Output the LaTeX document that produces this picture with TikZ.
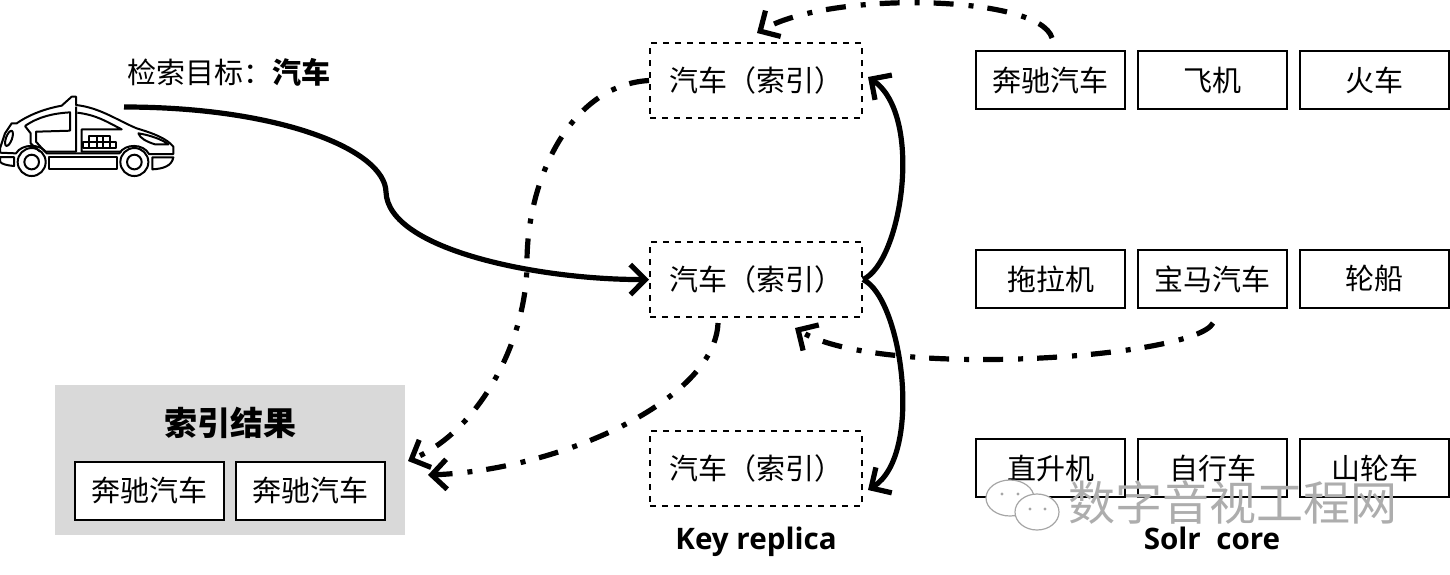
\documentclass[tikz,border=0pt]{standalone}
\usepackage{fontspec}
\setmainfont{Noto Sans CJK SC}
\newfontfamily\latinfont{Open Sans}
\usetikzlibrary{positioning, arrows.meta}

\tikzset{
	corebox/.style={draw, fill=white, line width=1pt, minimum width=74.5pt, minimum height=29pt, inner sep=0pt, font=\fontsize{14.5pt}{16pt}\selectfont},
	keybox/.style={draw, dashed, line width=1pt, minimum width=106pt, minimum height=37.5pt, inner sep=0pt, font=\fontsize{14.5pt}{16pt}\selectfont},
	caption/.style={anchor=base, font=\latinfont\bfseries\fontsize{14.8pt}{18pt}\selectfont},
	flow/.style={line width=2.6pt, -{Straight Barb[length=7.5pt, width=15pt, line width=2.6pt]}},
	dashflow/.style={flow, dash pattern=on 10pt off 7pt on 2.5pt off 7.5pt},
	carline/.style={line width=1pt, line join=round}
}

\begin{document}
\begin{tikzpicture}[x=.5pt, y=-.5pt, node distance=81pt, on grid]
	\useasboundingbox (0,0) rectangle (1450,574);

	%Resultado
	\node[fill=black!15, minimum width=175pt, minimum height=75pt, inner sep=0pt] (R) at (230,460) {};
	\node[font=\bfseries\fontsize{16.5pt}{18pt}\selectfont] (T) at (230,423) {索引结果};
	\node[corebox] (R1) at (149.5,490.5) {奔驰汽车};
	\node[corebox] (R2)[right of=R1, node distance=80.5pt] {奔驰汽车};

	\node[font=\fontsize{14.5pt}{16pt}\selectfont] (Q) at (229,72) {检索目标：\textbf{汽车}};

	\node[keybox] (K1) at (756,80.5)  {汽车（索引）};
	\node[keybox] (K2) at (756,279.5) {汽车（索引）};
	\node[keybox] (K3) at (756,468.5) {汽车（索引）};
	\node[caption] (KL) at (756,549) {Key replica};

	\node[corebox] (S1) at (1050.5,80) {奔驰汽车};
	\node[corebox] (S2)[right of=S1]   {飞机};
	\node[corebox] (S3)[right of=S2]   {火车};
	\node[corebox] (S4) at (1050.5,279) {拖拉机};
	\node[corebox] (S5)[right of=S4]   {宝马汽车};
	\node[corebox] (S6)[right of=S5]   {轮船};
	\node[corebox] (S7) at (1050.5,468) {直升机};
	\node[corebox] (S8)[right of=S7]   {自行车};
	\node[corebox] (S9)[right of=S8]   {山轮车};
	\node[caption] (SL) at (1212,549) {Solr\ \ core};

	%Carro
	\begin{scope}[shift={(0,40)}, x=.1667pt, y=-.1667pt, carline]
		\draw (0,338) -- (0,325) -- (15,280) -- (35,250) -- (50,250) .. controls (90,222) and (140,205) .. (185,197)
			-- (215,170) -- (228,170) -- (228,195) .. controls (300,203) and (350,240) .. (410,265)
			.. controls (460,280) and (500,295) .. (520,320) -- (520,342) -- (447,342)
			.. controls (430,310) and (375,310) .. (358,340) -- (140,340) .. controls (125,310) and (65,310) .. (48,340) -- cycle;
		\draw (75,258) .. controls (115,230) and (160,220) .. (210,217) -- (210,272) -- (108,275) -- (108,305) -- (135,335) -- (228,335) -- (228,200);
		\draw (75,258) -- (92,280) -- (92,310) -- (120,335);
		\draw (232,218) .. controls (290,225) and (320,245) .. (365,268) -- (245,268) -- (245,335) -- (365,335);
		\draw (250,305) rectangle (348,323) (268,287) rectangle (330,305);
		\draw (268,305) -- (268,323) (290,287) -- (290,323) (310,287) -- (310,323) (330,305) -- (330,323);
		\draw[rotate around={70:(27,295)}] (27,295) ellipse (24 and 9);
		\draw (415,280) .. controls (450,285) and (490,300) .. (505,313) -- (465,313) .. controls (440,305) and (420,295) .. cycle;
		\draw (95,366) circle (42) (95,366) circle (22);
		\draw (403,366) circle (42) (403,366) circle (22);
		\draw (0,351) -- (42,351) -- (42,378) .. controls (20,376) and (5,372) .. (0,365) -- cycle;
		\draw (148,352) rectangle (352,388);
		\draw (457,352) -- (520,352) .. controls (515,378) and (490,386) .. (457,388) -- cycle;
	\end{scope}

	\coordinate (carTip) at (124,107);
	\coordinate (K1in) at (757,33);
	\coordinate (K1up) at (868,77);
	\coordinate (K2in) at (795,328);
	\coordinate (K2out) at (718,323);
	\coordinate (K3up) at (868,490);
	\coordinate (Rin) at (428,475);
	\coordinate (S1out) at (1052,38);
	\coordinate (S5out) at (1213,323);
	\coordinate (Rtop) at (408,461);

	%Setas
	\draw[flow] (carTip) .. controls (280,107) and (385,150) .. (386,192)
		.. controls (388,250) and (540,280) .. (K2.west);
	\draw[flow] (K2.east) .. controls (902,262) and (924,115) .. (K1up);
	\draw[flow] (K2.east) .. controls (902,298) and (924,455) .. (K3up);
	\draw[dashflow] (S1out) .. controls (1040,-5) and (830,-10) .. (K1in);
	\draw[dashflow] (S5out) .. controls (1195,358) and (880,380) .. (K2in);
	\draw[dashflow] (K2out) .. controls (715,400) and (560,470) .. (Rin);
	\draw[dashflow] (K1.west) .. controls (570,85) and (527,180) .. (527,262)
		.. controls (527,340) and (480,430) .. (Rtop);

	%Marca
	\begin{scope}[draw=black!35, fill=white, line width=.6pt]
		\filldraw (1010,498) ellipse (24 and 18);
		\filldraw (1037,512) ellipse (22 and 18);
		\fill[black!35] (1002,494) circle (1.6) (1018,494) circle (1.6) (1030,509) circle (1.6) (1045,509) circle (1.6);
	\end{scope}
	\node[text=black!32, font=\fontsize{23.5pt}{26pt}\selectfont] (W) at (1233,503) {数字音视工程网};
\end{tikzpicture}
\end{document}
